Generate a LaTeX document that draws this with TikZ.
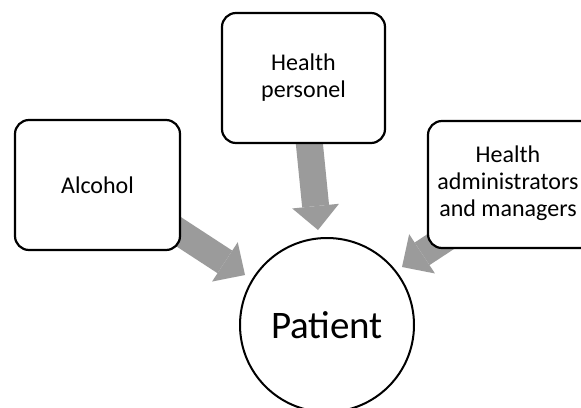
\documentclass[tikz,border=0pt]{standalone}
\usepackage{fontspec}
\setmainfont{Carlito}
\usetikzlibrary{arrows.meta}
\definecolor{arrowgray}{RGB}{155,155,155}
\tikzset{
  infobox/.style={draw=black, line width=2.2pt, fill=white, rounded corners=14pt,
    inner sep=0pt, align=center, font=\fontsize{24}{27}\selectfont},
  patientnode/.style={circle, draw=black, line width=2pt, fill=white, inner sep=0pt,
    minimum size=174pt, font=\fontsize{39}{44}\selectfont},
  blockarrow/.style={draw=arrowgray, line width=27pt,
    -{Triangle[length=24pt,width=47pt,line width=0pt,fill=arrowgray]}}
}
\begin{document}
\begin{tikzpicture}[x=1pt,y=-1pt]
\clip (0,0) rectangle (581,407);
\fill[white] (0,0) rectangle (581,407);
% arrow coordinates
\coordinate (a1s) at (153,215);
\coordinate (a1t) at (245,275);
\coordinate (a2s) at (307,120);
\coordinate (a2t) at (318,230);
\coordinate (a3s) at (469,223);
\coordinate (a3t) at (402,267);
\draw[blockarrow] (a1s) -- (a1t);
\draw[blockarrow] (a2s) -- (a2t);
\draw[blockarrow] (a3s) -- (a3t);
% boxes
\node[infobox, minimum width=165pt, minimum height=130pt] (alc) at (97.5,185) {Alcohol};
\node[infobox, minimum width=163pt, minimum height=130pt] (pers) at (303.5,78) {Health\\personel};
\node[infobox, minimum width=176pt, minimum height=127pt] (adm) at (516,184.5)
  {\begin{tabular}{@{}c@{}}Health\\administrators\\and managers\end{tabular}\hspace{16pt}};
\node[patientnode] (pat) at (327,325) {Patient};
\end{tikzpicture}
\end{document}
